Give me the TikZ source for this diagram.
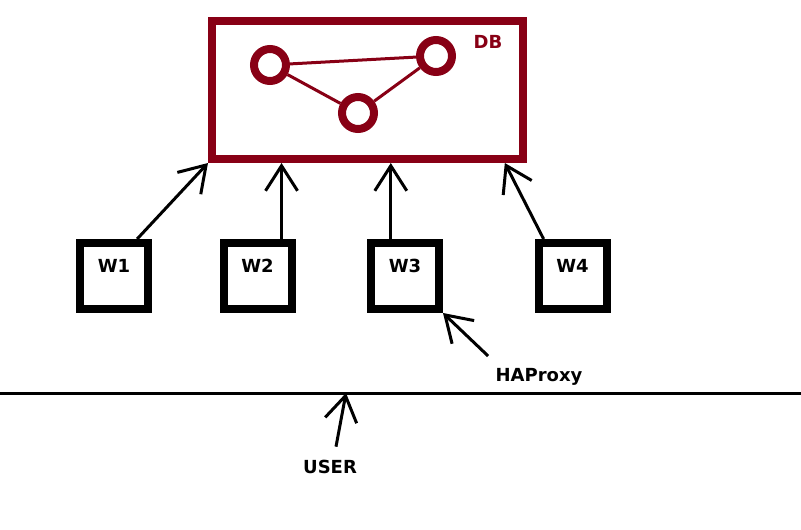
\documentclass[tikz,border=0pt]{standalone}
\usepackage{fontspec}
\setmainfont{DejaVu Sans}
\usepackage{tikz}
\usetikzlibrary{arrows.meta}
\definecolor{dbred}{RGB}{136,0,21}

\begin{document}
\begin{tikzpicture}[x=1pt, y=-1pt,
    wbox/.style={rectangle, draw, line width=8pt, minimum width=68pt, minimum height=66pt, text height=12pt, text depth=19pt, font=\bfseries\fontsize{18}{21}\selectfont},
    ring/.style={circle, draw=dbred, line width=8pt, minimum size=32pt, inner sep=0},
    lbl/.style={font=\bfseries\fontsize{18}{21}\selectfont},
    dbline/.style={draw=dbred, line width=3pt},
    arr/.style={line width=3pt, -{Straight Barb[length=25pt, width=32pt]}}]
        \useasboundingbox (0,0) rectangle (801,530);

        % database
        \node (db) [rectangle, draw=dbred, line width=8pt, minimum width=311pt, minimum height=138pt] at (367.5, 90) {};
        \node (dblabel) [lbl, text=dbred] at (488, 42) {DB};

        \node (c1) [ring] at (270, 65) {};
        \node (c2) [ring] at (436, 56) {};
        \node (c3) [ring] at (358, 113) {};

        \draw[dbline] (c1) -- (c2) (c1) -- (c3) (c3) -- (c2);

        % workers
        \node (w1) [wbox] at (114, 276) {W1};
        \node (w2) [wbox] at (257.5, 276) {W2};
        \node (w3) [wbox] at (405, 276) {W3};
        \node (w4) [wbox] at (572.5, 276) {W4};

        \draw[arr] (w1.58) -- (db.south west);
        \draw[arr] (w2.57) -- (w2.57 |- db.south);
        \draw[arr] (w3.111) -- (w3.111 |- db.south);
        \draw[arr] (w4.128) -- (db.-28);

        % proxy and user
        \node (haproxy) [lbl] at (539, 377) {HAProxy};
        \draw[arr] ([xshift=-4pt, yshift=9pt]haproxy.north west) -- (w3.south east);

        \coordinate (left) at (0, 393);
        \coordinate (right) at (801, 393);
        \coordinate (hit) at (346, 393);
        \draw[line width=3pt] (left) -- (right);

        \node (user) [lbl] at (330, 467) {USER};
        \draw[arr] ([xshift=6pt, yshift=10pt]user.north) -- (hit);
\end{tikzpicture}
\end{document}
